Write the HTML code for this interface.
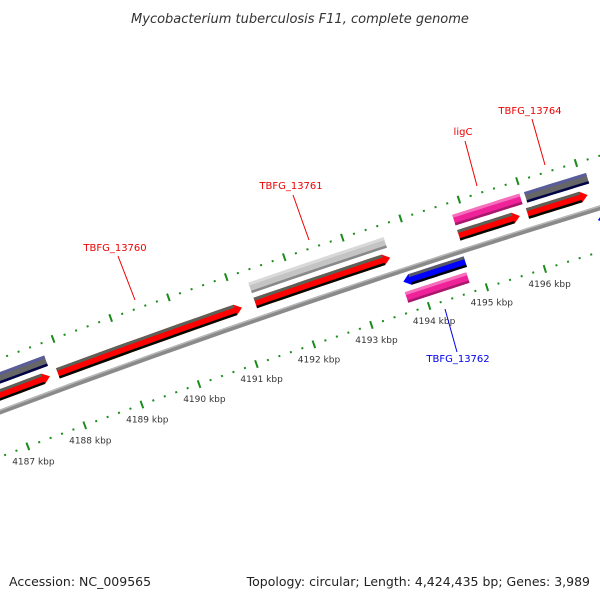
<!DOCTYPE html>
<html><head><meta charset="utf-8"><style>
html,body{margin:0;padding:0;background:#fff;}
svg{display:block;font-family:"DejaVu Sans","Liberation Sans",sans-serif;}
</style></head><body>
<svg id="chart" width="600" height="600" viewBox="0 0 600 600" xmlns="http://www.w3.org/2000/svg">
<rect width="600" height="600" fill="#fff"/>
<text x="300" y="23" text-anchor="middle" font-size="13" font-style="italic" fill="#333">Mycobacterium tuberculosis F11, complete genome</text>
<g id="ticks"></g>
<g id="backbone"></g>
<g id="genes"></g>
<g id="labels"></g>
<text x="9" y="586" font-size="12.5" fill="#222">Accession: NC_009565</text>
<text x="590" y="586" text-anchor="end" font-size="12.5" fill="#222">Topology: circular; Length: 4,424,435 bp; Genes: 3,989</text>
</svg>
<script>
// data
const tickKbp = [4187,4188,4189,4190,4191,4192,4193,4194,4195,4196];
const geneNames = ["gene-left-a","gene-left-b","TBFG_13760","TBFG_13761","TBFG_13761b","ligC","ligC-red","TBFG_13764","TBFG_13764b","TBFG_13762","TBFG_13762b","gene-right"];
const geneStart = [4185.5,4185.5,4187.88,4191.31,4191.31,4194.82,4194.82,4196.05,4196.0,4193.72,4193.69,4197.07];
const geneEnd   = [4187.77,4187.74,4191.08,4193.64,4193.64,4195.97,4195.87,4197.11,4197.03,4194.79,4194.75,4198.5];
const geneTrack = [2,1,1,1,2,2,1,2,1,-1,-2,-1];
const geneArrow = [0,1,1,1,0,0,1,0,1,-1,0,-1];
const geneColor = ["#666","#f00","#f00","#f00","#c4c4c4","#f0229a","#f00","#666","#f00","#00f","#f0229a","#00f"];

const NS="http://www.w3.org/2000/svg";
const R=10000, t0=-20.6*Math.PI/180, P0=[0,412];
const C=[P0[0]-R*Math.sin(t0)*-1*-1, 0];
C[0]=P0[0]+R*(-Math.sin(t0)); C[1]=P0[1]+R*Math.cos(t0);
function uOf(k){return 14+(k-4187)*61;}
function pt(u,v){const t=t0+u/R;return [C[0]+(R+v)*Math.sin(t), C[1]-(R+v)*Math.cos(t)];}
function poly(pts,fill,parent,name){
  const p=document.createElementNS(NS,"polygon");
  p.setAttribute("points",pts.map(q=>q[0].toFixed(1)+","+q[1].toFixed(1)).join(" "));
  p.setAttribute("fill",fill);
  
  
  parent.appendChild(p);return p;
}
function band(u1,u2,va,vb){const a=[],b=[];for(let i=0;i<=10;i++){const u=u1+(u2-u1)*i/10;a.push(pt(u,va));b.unshift(pt(u,vb));}return a.concat(b);}

// backbone
const bb=document.getElementById("backbone");
poly(band(-80,720,-2.5,2.5),"#8a8a8a",bb,"backbone");
poly(band(-80,720,1,2.5),"#b8b8b8",bb,"backbone-highlight");

// ticks
const tg=document.getElementById("ticks");
for(let k=4185;k<=4199;k+=0.2){
  const kk=Math.round(k*10)/10, major=Math.abs(kk-Math.round(kk))<1e-6, u=uOf(kk);
  [-42,50].forEach(v=>{
    if(major) poly(band(u-1,u+1,v-4,v+4),"#1c8c1c",tg,"major-tick");
    else poly(band(u-1,u+1,v-1,v+1),"#1c8c1c",tg,"minor-tick");
  });
}
tickKbp.forEach(k=>{
  const p=pt(uOf(k),-58);
  const t=document.createElementNS(NS,"text");
  t.setAttribute("x",p[0].toFixed(1));t.setAttribute("y",(p[1]+3).toFixed(1));
  t.setAttribute("text-anchor","middle");t.setAttribute("font-size","9");t.setAttribute("fill","#333");
  t.textContent=k+" kbp";
  
  
  tg.appendChild(t);
});

// genes
const rowV={1:16,2:32,"-1":-11,"-2":-27};
function shade(c,f){const n=parseInt(c.slice(1),16);let r=n>>16,g=(n>>8)&255,b=n&255;
  const m=x=>Math.max(0,Math.min(255,Math.round(f>1?x+(255-x)*(f-1):x*f)));return "rgb("+m(r)+","+m(g)+","+m(b)+")";}
const gg=document.getElementById("genes");
geneNames.forEach((nm,i)=>{
  const u1=uOf(geneStart[i]),u2=uOf(geneEnd[i]),vc=rowV[geneTrack[i]],h=5.5,dir=geneArrow[i],hl=7;
  let a=u1,b=u2;
  if(dir===1)b=u2-hl; if(dir===-1)a=u1+hl;
  const top=[],bot=[];
  for(let j=0;j<=10;j++){const u=a+(b-a)*j/10;top.push(pt(u,vc+h));bot.unshift(pt(u,vc-h));}
  let pts=top.slice();
  if(dir===1)pts.push(pt(u2,vc));
  pts=pts.concat(bot);
  if(dir===-1)pts.push(pt(u1,vc));
  poly(pts,geneColor[i],gg,"gene-"+nm);
  poly(band(a,b,vc+h-3,vc+h),shade(geneColor[i],1.35),gg,"gene-highlight");
  poly(band(a,b,vc-h,vc-h+2.5),shade(geneColor[i],0.7),gg,"gene-shadow");
});

// labels
const lg=document.getElementById("labels");
const labs=[["TBFG_13760",115,251,118,256,135,300,"#e00"],["TBFG_13761",291,189,293,195,309,240,"#e00"],
["ligC",463,135,465,141,477,186,"#e00"],["TBFG_13764",530,114,532,119,545,165,"#e00"],["TBFG_13762",458,362,457,352,445,309,"#00e"]];
labs.forEach(l=>{
  const ln=document.createElementNS(NS,"line");
  ln.setAttribute("x1",l[3]);ln.setAttribute("y1",l[4]);ln.setAttribute("x2",l[5]);ln.setAttribute("y2",l[6]);
  ln.setAttribute("stroke",l[7]);ln.setAttribute("stroke-width","1");
  
  
  lg.appendChild(ln);
  const t=document.createElementNS(NS,"text");
  t.setAttribute("x",l[1]);t.setAttribute("y",l[2]);t.setAttribute("text-anchor","middle");
  t.setAttribute("font-size","10");t.setAttribute("fill",l[7]);t.textContent=l[0];
  
  
  lg.appendChild(t);
});
</script>
</body></html>
